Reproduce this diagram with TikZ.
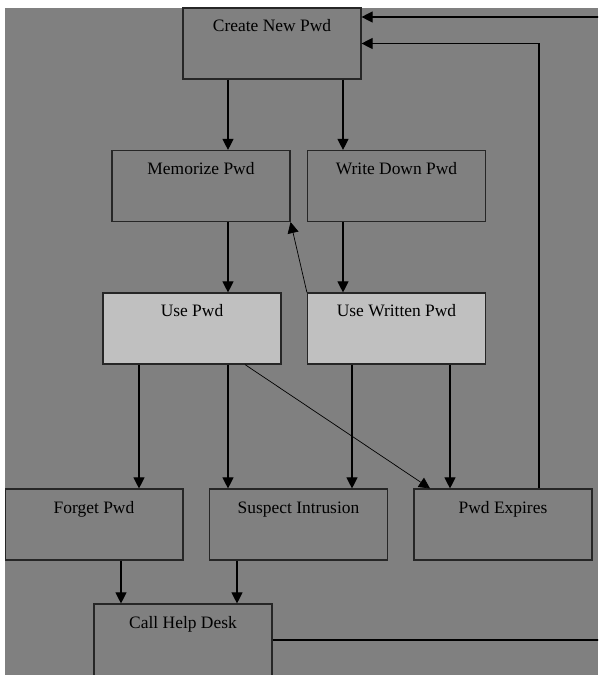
\documentclass[tikz,border=0pt]{standalone}
\usepackage{fontspec}
\setmainfont{Liberation Serif}
\usetikzlibrary{arrows.meta}

\definecolor{bggray}{HTML}{808080}
\definecolor{boxgray}{HTML}{C0C0C0}

\tikzset{
	stepbox/.style={draw=black!85, line width=0.8pt, minimum width=4.45cm, minimum height=1.775cm,
		inner sep=0pt, text height=0.6cm, text depth=1.175cm, font=\fontsize{12.4}{14}\selectfont},
	usebox/.style={stepbox, fill=boxgray},
	arr/.style={line width=0.8pt, -{Triangle[width=0.275cm,length=0.275cm]}},
	thinarr/.style={arr, line width=0.5pt},
}

\begin{document}
\begin{tikzpicture}[x=0.025cm, y=-0.025cm]
	%%% Фон
	\useasboundingbox (0,0) rectangle (598,675);
	\fill[white] (0,0) rectangle (598,675);
	\clip (5,8) rectangle (598,675);
	\fill[bggray] (5,8) rectangle (598,675);
	
	%%% Блоки
	\node[stepbox] (create) at (272,43.5) {Create New Pwd};
	\node[stepbox] (memorize) at (201,186) {Memorize Pwd};
	\node[stepbox] (writedown) at (396.5,186) {Write Down Pwd};
	\node[usebox] (usepwd) at (192,328.5) {Use Pwd};
	\node[usebox] (usewritten) at (396.5,328.5) {Use Written Pwd};
	\node[stepbox] (forget) at (94,524.5) {Forget Pwd};
	\node[stepbox] (suspect) at (298.5,524.5) {Suspect Intrusion};
	\node[stepbox] (expires) at (503,524.5) {Pwd Expires};
	\node[stepbox, text depth=1.5cm] (helpdesk) at (183,646) {Call Help Desk};
	
	% Вспомогательные точки
	\coordinate (xmem) at (228,0);
	\coordinate (xwrite) at (343,0);
	\coordinate (xforget) at (139,0);
	\coordinate (xdiag) at (245,0);
	\coordinate (xdiagend) at (430,0);
	\coordinate (xsusp) at (352,0);
	\coordinate (xexp) at (450,0);
	\coordinate (xhelpa) at (121,0);
	\coordinate (xhelpb) at (237,0);
	\coordinate (xloop) at (539,0);
	\coordinate (yhelp) at (0,640);
	\coordinate (outerloop) at (610,17);
	
	%%% Стрелки
	\draw[arr] (create.south -| xmem) -- (memorize.north -| xmem);
	\draw[arr] (create.south -| xwrite) -- (writedown.north -| xwrite);
	\draw[arr] (memorize.south -| xmem) -- (usepwd.north -| xmem);
	\draw[arr] (writedown.south -| xwrite) -- (usewritten.north -| xwrite);
	\draw[thinarr] (usewritten.north west) -- (memorize.south east);
	
	\draw[arr] (usepwd.south -| xforget) -- (forget.north -| xforget);
	\draw[arr] (usepwd.south -| xmem) -- (suspect.north -| xmem);
	\draw[thinarr] (usepwd.south -| xdiag) -- (expires.north -| xdiagend);
	\draw[arr] (usewritten.south -| xsusp) -- (suspect.north -| xsusp);
	\draw[arr] (usewritten.south -| xexp) -- (expires.north -| xexp);
	
	\draw[arr] (forget.south -| xhelpa) -- (helpdesk.north -| xhelpa);
	\draw[arr] (suspect.south -| xhelpb) -- (helpdesk.north -| xhelpb);
	
	% Возвраты
	\draw[arr] (expires.north -| xloop) |- (create.east);
	\draw[arr] (helpdesk.east |- yhelp) -| (outerloop) -- (create.east |- outerloop);
\end{tikzpicture}
\end{document}
